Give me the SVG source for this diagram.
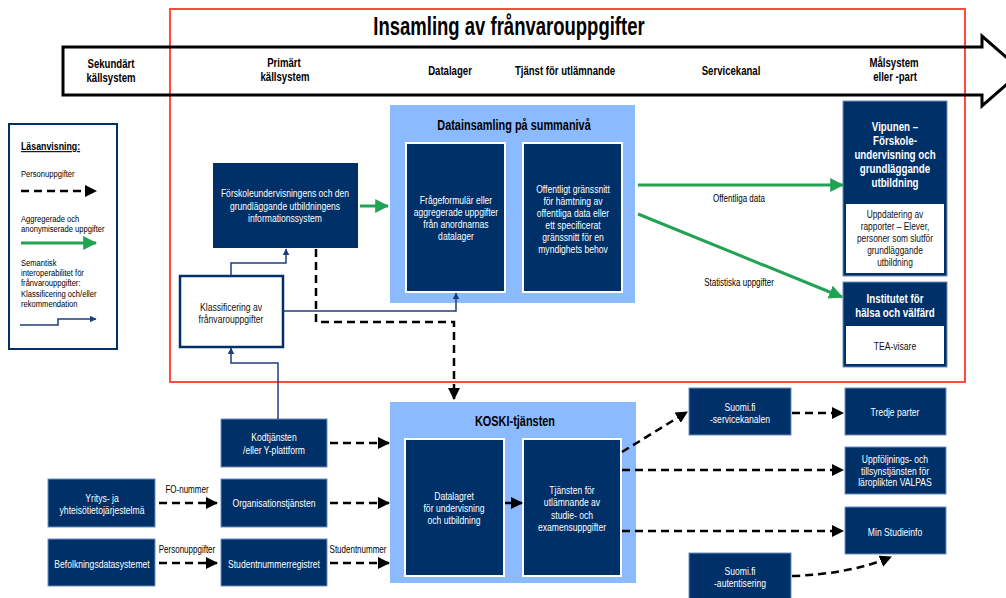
<svg xmlns="http://www.w3.org/2000/svg" width="1006" height="598" viewBox="0 0 1006 598">
<defs>
<marker id="mb" markerUnits="userSpaceOnUse" markerWidth="12" markerHeight="12" viewBox="0 0 12 12" refX="11" refY="6" orient="auto"><path d="M0,0 L12,6 L0,12 z" fill="#000"/></marker>
<marker id="mg" markerUnits="userSpaceOnUse" markerWidth="14" markerHeight="14" viewBox="0 0 12 12" refX="11" refY="6" orient="auto"><path d="M0,0 L12,6 L0,12 z" fill="#22a353"/></marker>
<marker id="mn" markerUnits="userSpaceOnUse" markerWidth="7" markerHeight="7" viewBox="0 0 12 12" refX="11" refY="6" orient="auto"><path d="M0,0 L12,6 L0,12 z" fill="#1f3d7a"/></marker>
</defs>
<style>
text{font-family:"Liberation Sans",Arial,sans-serif;}
.nv{fill:#003068}
.lb{fill:#8cbaff}
.in{fill:#003068;stroke:#fff;stroke-width:2}
.wt{fill:#fff;font-size:11px;text-anchor:middle}
.wb{fill:#fff;font-size:13px;font-weight:bold;text-anchor:middle}
.bt{fill:#111;font-size:11px;text-anchor:middle}
.hd{fill:#000;font-size:12px;font-weight:bold;text-anchor:middle}
.lg{fill:#000;font-size:9.5px}
.lgh{fill:#000;font-size:11px;font-weight:bold;text-decoration:underline}
.el{fill:#000;font-size:10px;text-anchor:middle}
.ti{fill:#000;font-size:14px;font-weight:bold;text-anchor:middle}
.d{stroke:#000;stroke-width:2.5;stroke-dasharray:8 5;fill:none}
.g{stroke:#22a353;stroke-width:3;fill:none}
.n{stroke:#1f3d7a;stroke-width:1.5;fill:none}
.tb{stroke:#6f8fc0;stroke-width:1}
</style>
<rect width="1006" height="598" fill="#fff"/>

<g id="frame">
<rect x="170" y="9" width="795" height="373" fill="none" stroke="#ff4a3d" stroke-width="2"/>
<text transform="translate(509 35) scale(.74 1)" font-size="25" font-weight="bold" text-anchor="middle" fill="#000">Insamling av frånvarouppgifter</text>
</g>

<g id="band">
<path d="M63,47 H982 V36 L1022,71 L982,106 V95 H63 Z" fill="none" stroke="#000" stroke-width="3"/>
<text class="hd" transform="translate(111 68) scale(.8 1)">Sekundärt</text>
<text class="hd" transform="translate(111 82) scale(.8 1)">källsystem</text>
<text class="hd" transform="translate(284 67) scale(.8 1)">Primärt</text>
<text class="hd" transform="translate(285 81) scale(.8 1)">källsystem</text>
<text class="hd" transform="translate(450 75) scale(.8 1)">Datalager</text>
<text class="hd" transform="translate(565 75) scale(.8 1)">Tjänst för utlämnande</text>
<text class="hd" transform="translate(731 75) scale(.8 1)">Servicekanal</text>
<text class="hd" transform="translate(894 67) scale(.8 1)">Målsystem</text>
<text class="hd" transform="translate(895 81) scale(.8 1)">eller -part</text>
</g>

<g id="legend">
<rect x="9" y="124" width="108" height="225" fill="#fff" stroke="#003068" stroke-width="2"/>
<text class="lgh" transform="translate(21 150) scale(.8 1)">Läsanvisning:</text>
<text class="lg" transform="translate(21 177) scale(.8 1)">Personuppgifter</text>
<line x1="21" y1="191" x2="96" y2="191" class="d" stroke-width="2" marker-end="url(#mb)"/>
<text class="lg" transform="translate(21 222) scale(.8 1)">Aggregerade och</text>
<text class="lg" transform="translate(21 232) scale(.8 1)">anonymiserade uppgifter</text>
<line x1="21" y1="243" x2="96" y2="243" class="g" stroke-width="2" marker-end="url(#mg)"/>
<text class="lg" transform="translate(21 266) scale(.8 1)">Semantisk</text>
<text class="lg" transform="translate(21 276) scale(.8 1)">interoperabilitet för</text>
<text class="lg" transform="translate(21 286) scale(.8 1)">frånvarouppgifter:</text>
<text class="lg" transform="translate(21 297) scale(.8 1)">Klassificering och/eller</text>
<text class="lg" transform="translate(21 307) scale(.8 1)">rekommendation</text>
<path d="M20,325 H58 V319 H96" class="n" marker-end="url(#mn)"/>
</g>

<g id="forskole">
<rect class="nv" x="213" y="163" width="145" height="85"/>
<text class="wt" transform="translate(285 197) scale(.78 1)">Förskoleundervisningens och den</text>
<text class="wt" transform="translate(285 210) scale(.78 1)">grundläggande utbildningens</text>
<text class="wt" transform="translate(285 222) scale(.78 1)">informationssystem</text>
</g>

<g id="klassificering">
<rect x="180" y="276" width="103" height="71" fill="#fff" stroke="#003068" stroke-width="2.5"/>
<text class="bt" transform="translate(231 311) scale(.78 1)">Klassificering av</text>
<text class="bt" transform="translate(231 323) scale(.78 1)">frånvarouppgifter</text>
</g>

<g id="datainsamling">
<rect class="lb" x="390" y="105" width="245" height="198"/>
<text class="ti" transform="translate(514 130) scale(.78 1)">Datainsamling på summanivå</text>
<rect class="in" x="406" y="143" width="99" height="149"/>
<text class="wt" transform="translate(456 204) scale(.78 1)">Frågeformulär eller</text>
<text class="wt" transform="translate(456 216) scale(.78 1)">aggregerade uppgifter</text>
<text class="wt" transform="translate(456 228) scale(.78 1)">från anordnarnas</text>
<text class="wt" transform="translate(456 240) scale(.78 1)">datalager</text>
<rect class="in" x="523" y="143" width="99" height="149"/>
<text class="wt" transform="translate(573 193) scale(.78 1)">Offentligt gränssnitt</text>
<text class="wt" transform="translate(573 205) scale(.78 1)">för hämtning av</text>
<text class="wt" transform="translate(573 217) scale(.78 1)">offentliga data eller</text>
<text class="wt" transform="translate(573 229) scale(.78 1)">ett specificerat</text>
<text class="wt" transform="translate(573 241) scale(.78 1)">gränssnitt för en</text>
<text class="wt" transform="translate(573 253) scale(.78 1)">myndighets behov</text>
</g>

<g id="vipunen">
<rect class="nv tb" x="843" y="101" width="104" height="175"/>
<text class="wb" transform="translate(895 131) scale(.75 1)">Vipunen –</text>
<text class="wb" transform="translate(895 145) scale(.75 1)">Förskole-</text>
<text class="wb" transform="translate(895 159) scale(.75 1)">undervisning och</text>
<text class="wb" transform="translate(895 173) scale(.75 1)">grundläggande</text>
<text class="wb" transform="translate(895 187) scale(.75 1)">utbildning</text>
<rect x="846" y="204" width="98" height="69" fill="#fff"/>
<text class="bt" transform="translate(895 218) scale(.76 1)">Uppdatering av</text>
<text class="bt" transform="translate(895 230) scale(.76 1)">rapporter – Elever,</text>
<text class="bt" transform="translate(895 242) scale(.76 1)">personer som slutför</text>
<text class="bt" transform="translate(895 254) scale(.76 1)">grundläggande</text>
<text class="bt" transform="translate(895 266) scale(.76 1)">utbildning</text>
</g>

<g id="institutet">
<rect class="nv tb" x="843" y="282" width="104" height="85"/>
<text class="wb" transform="translate(895 303) scale(.75 1)">Institutet för</text>
<text class="wb" transform="translate(895 317) scale(.75 1)">hälsa och välfärd</text>
<rect x="846" y="326" width="98" height="38" fill="#fff"/>
<text class="bt" transform="translate(895 350) scale(.78 1)">TEA-visare</text>
</g>

<g id="koski">
<rect class="lb" x="390" y="402" width="246" height="181"/>
<text class="ti" transform="translate(515 426) scale(.78 1)">KOSKI-tjänsten</text>
<rect class="in" x="405" y="439" width="99" height="137"/>
<text class="wt" transform="translate(454 500) scale(.78 1)">Datalagret</text>
<text class="wt" transform="translate(454 512) scale(.78 1)">för undervisning</text>
<text class="wt" transform="translate(454 524) scale(.78 1)">och utbildning</text>
<rect class="in" x="523" y="439" width="98" height="137"/>
<text class="wt" transform="translate(572 494) scale(.78 1)">Tjänsten för</text>
<text class="wt" transform="translate(572 506) scale(.78 1)">utlämnande av</text>
<text class="wt" transform="translate(572 519) scale(.78 1)">studie- och</text>
<text class="wt" transform="translate(572 531) scale(.78 1)">examensuppgifter</text>
</g>

<g id="kodtjansten">
<rect class="nv tb" x="221" y="419" width="106" height="48"/>
<text class="wt" transform="translate(274 441) scale(.78 1)">Kodtjänsten</text>
<text class="wt" transform="translate(274 454) scale(.78 1)">/eller Y-plattform</text>
</g>
<g id="yritys">
<rect class="nv tb" x="48" y="479" width="107" height="48"/>
<text class="wt" transform="translate(102 502) scale(.78 1)">Yritys- ja</text>
<text class="wt" transform="translate(102 514) scale(.78 1)">yhteisötietojärjestelmä</text>
</g>
<g id="organisation">
<rect class="nv tb" x="221" y="479" width="106" height="48"/>
<text class="wt" transform="translate(274 507) scale(.78 1)">Organisationstjänsten</text>
</g>
<g id="befolkning">
<rect class="nv tb" x="48" y="539" width="107" height="47"/>
<text class="wt" transform="translate(102 568) scale(.78 1)">Befolkningsdatasystemet</text>
</g>
<g id="studentnummer">
<rect class="nv tb" x="221" y="539" width="106" height="47"/>
<text class="wt" transform="translate(274 568) scale(.78 1)">Studentnummerregistret</text>
</g>
<g id="suomi-service">
<rect class="nv tb" x="689" y="388" width="102" height="47"/>
<text class="wt" transform="translate(740 411) scale(.78 1)">Suomi.fi</text>
<text class="wt" transform="translate(740 423) scale(.78 1)">-servicekanalen</text>
</g>
<g id="tredje">
<rect class="nv tb" x="845" y="388" width="101" height="47"/>
<text class="wt" transform="translate(895 416) scale(.78 1)">Tredje parter</text>
</g>
<g id="valpas">
<rect class="nv tb" x="845" y="447" width="101" height="47"/>
<text class="wt" transform="translate(895 463) scale(.78 1)">Uppföljnings- och</text>
<text class="wt" transform="translate(895 475) scale(.78 1)">tillsynstjänsten för</text>
<text class="wt" transform="translate(895 486) scale(.78 1)">läroplikten VALPAS</text>
</g>
<g id="studieinfo">
<rect class="nv tb" x="845" y="507" width="101" height="47"/>
<text class="wt" transform="translate(895 536) scale(.78 1)">Min Studieinfo</text>
</g>
<g id="suomi-auth">
<rect class="nv tb" x="689" y="553" width="102" height="50"/>
<text class="wt" transform="translate(740 575) scale(.78 1)">Suomi.fi</text>
<text class="wt" transform="translate(740 587) scale(.78 1)">-autentisering</text>
</g>

<g id="connectors">
<line x1="360" y1="206" x2="388" y2="206" class="g" marker-end="url(#mg)"/>
<line x1="638" y1="185" x2="843" y2="185" class="g" marker-end="url(#mg)"/>
<line x1="638" y1="214" x2="842" y2="297" class="g" marker-end="url(#mg)"/>
<text class="el" transform="translate(739 202) scale(.8 1)">Offentliga data</text>
<text class="el" transform="translate(739 286) scale(.8 1)">Statistiska uppgifter</text>

<path d="M231,276 V263 H286 V249" class="n" marker-end="url(#mn)"/>
<path d="M283,311 H456 V293" class="n" marker-end="url(#mn)"/>
<path d="M278,419 V363 H231 V348" class="n" marker-end="url(#mn)"/>

<path d="M316,249 V322 H454 V399" class="d" marker-end="url(#mb)"/>
<line x1="330" y1="443" x2="389" y2="443" class="d" marker-end="url(#mb)"/>
<line x1="330" y1="503" x2="389" y2="503" class="d" marker-end="url(#mb)"/>
<line x1="330" y1="563" x2="389" y2="563" class="d" marker-end="url(#mb)"/>
<line x1="159" y1="503" x2="217" y2="503" class="d" marker-end="url(#mb)"/>
<line x1="159" y1="563" x2="217" y2="563" class="d" marker-end="url(#mb)"/>
<text class="el" transform="translate(187 493) scale(.8 1)">FO-nummer</text>
<text class="el" transform="translate(187 553) scale(.8 1)">Personuppgifter</text>
<text class="el" transform="translate(358 553) scale(.8 1)">Studentnummer</text>
<line x1="505" y1="503" x2="522" y2="503" class="d" stroke-dasharray="4 3" marker-end="url(#mb)"/>
<line x1="622" y1="452" x2="687" y2="412" class="d" marker-end="url(#mb)"/>
<line x1="792" y1="413" x2="843" y2="413" class="d" marker-end="url(#mb)"/>
<line x1="622" y1="470" x2="843" y2="470" class="d" marker-end="url(#mb)"/>
<line x1="622" y1="531" x2="843" y2="531" class="d" marker-end="url(#mb)"/>
<path d="M792,576 Q850,574 891,557" class="d" marker-end="url(#mb)"/>
</g>
</svg>
